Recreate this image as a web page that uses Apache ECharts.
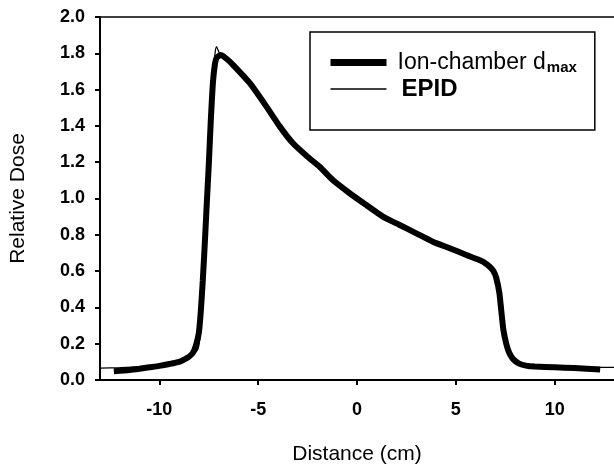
<!DOCTYPE html>
<html>
<head>
<meta charset="utf-8">
<script src="https://cdn.jsdelivr.net/npm/echarts@6/dist/echarts.min.js"></script>
<style>
  html, body { margin: 0; padding: 0; background: #fff; }
  #chart { width: 614px; height: 471px; }
</style>
</head>
<body>
<div id="chart"></div>
<script>
// ion-chamber d_max profile (thick line)
const ionX = [-12.3, -11.5, -11, -10.5, -10, -9.5, -9, -8.7, -8.5, -8.3, -8.15, -8.0, -7.9, -7.8, -7.7, -7.6,
  -7.5, -7.4, -7.3, -7.2, -7.1, -6.9, -6.6, -6.26, -5.42, -4.58, -3.9, -3.24, -2.5, -1.89, -1.21, -0.37,
  0.47, 1.31, 2.16, 3.0, 3.84, 4.69, 5.53, 6.1, 6.4, 6.7, 6.9, 7.05, 7.2, 7.3, 7.4, 7.55, 7.7, 7.9,
  8.2, 8.6, 9, 10, 11, 12.3];
const ionY = [0.048, 0.055, 0.062, 0.07, 0.078, 0.088, 0.1, 0.115, 0.128, 0.15, 0.19, 0.26, 0.38, 0.55, 0.75, 0.97,
  1.18, 1.42, 1.62, 1.73, 1.775, 1.79, 1.77, 1.735, 1.635, 1.506, 1.396, 1.304, 1.23, 1.175, 1.10, 1.029,
  0.964, 0.90, 0.854, 0.808, 0.762, 0.726, 0.689, 0.665, 0.65, 0.625, 0.6, 0.56, 0.48, 0.38, 0.28, 0.2, 0.15, 0.115,
  0.09, 0.078, 0.074, 0.07, 0.066, 0.058];

// EPID profile (thin line)
const epidX = [-13, -12, -11, -10, -9, -8.5, -8.3, -8.1, -8.0, -7.9, -7.8, -7.7, -7.6, -7.5, -7.4, -7.3,
  -7.2, -7.11, -6.95, -6.6, -6.26, -5.42, -4.58, -3.9, -3.24, -2.5, -1.89, -1.21, -0.37,
  0.47, 1.31, 2.16, 3.0, 3.84, 4.69, 5.53, 6.1, 6.4, 6.7, 6.9, 7.05, 7.2, 7.3, 7.4, 7.55, 7.7, 7.9,
  8.2, 8.6, 9, 10, 11, 12, 13];
const epidY = [0.065, 0.068, 0.073, 0.085, 0.105, 0.125, 0.14, 0.16, 0.19, 0.28, 0.42, 0.62, 0.88, 1.14, 1.4, 1.62,
  1.78, 1.836, 1.80, 1.77, 1.735, 1.635, 1.506, 1.396, 1.304, 1.23, 1.175, 1.10, 1.029,
  0.964, 0.90, 0.854, 0.808, 0.762, 0.726, 0.689, 0.665, 0.65, 0.625, 0.6, 0.56, 0.48, 0.38, 0.28, 0.2, 0.15, 0.115,
  0.09, 0.08, 0.076, 0.073, 0.071, 0.07, 0.07];

const xTicks = [-10, -5, 0, 5, 10];

function pairs(xs, ys) {
  return xs.map(function (x, i) { return [x, ys[i]]; });
}

const font = 'Liberation Sans, Arial, sans-serif';

let option = {
  backgroundColor: '#fff',
  animation: false,
  grid: {
    left: 98,
    right: 0,
    top: 17,
    bottom: 91
  },
  legend: {
    orient: 'vertical',
    left: 310,
    top: 32,
    padding: [19, 18, 29, 17],
    itemWidth: 56,
    itemHeight: 14,
    itemGap: 2,
    borderColor: '#000',
    borderWidth: 1.5,
    backgroundColor: '#fff',
    itemStyle: { opacity: 0 },
    textStyle: {
      fontFamily: font,
      fontSize: 23,
      color: '#000',
      padding: [0, 0, 0, 6],
      rich: {
        n: { fontFamily: font, fontSize: 23, color: '#000' },
        s: { fontFamily: font, fontSize: 15, fontWeight: 'bold', color: '#000', padding: [10, 0, 0, 1] },
        e: { fontFamily: font, fontSize: 24, fontWeight: 'bold', color: '#000', padding: [0, 0, 0, 4] }
      }
    },
    formatter: function (name) {
      if (name === 'EPID') return '{e|EPID}';
      return '{n|Ion-chamber d}{s|max}';
    },
    data: [
      { name: 'Ion-chamber dmax', itemStyle: { opacity: 0 }, lineStyle: { width: 7, color: '#000' } },
      { name: 'EPID', itemStyle: { opacity: 0 }, lineStyle: { width: 1.3, color: '#000' } }
    ]
  },
  xAxis: [
    {
      type: 'value',
      min: -13,
      max: 13,
      name: 'Distance (cm)',
      nameLocation: 'middle',
      nameGap: 64,
      nameTextStyle: { fontFamily: font, fontSize: 21, color: '#000' },
      splitLine: { show: false },
      axisLine: { show: true, onZero: false, lineStyle: { color: '#000', width: 2 } },
      axisTick: { show: true, customValues: xTicks, length: 5, inside: false, lineStyle: { color: '#000', width: 2 } },
      axisLabel: {
        customValues: xTicks,
        margin: 21,
        fontFamily: font,
        fontSize: 18,
        fontWeight: 'bold',
        color: '#000'
      }
    },
    {
      type: 'value',
      position: 'top',
      min: -13,
      max: 13,
      splitLine: { show: false },
      axisLine: { show: true, onZero: false, lineStyle: { color: '#000', width: 1.5 } },
      axisTick: { show: false },
      axisLabel: { show: false }
    }
  ],
  yAxis: {
    type: 'value',
    min: 0,
    max: 2,
    interval: 0.2,
    name: 'Relative Dose',
    nameLocation: 'middle',
    nameGap: 71,
    nameTextStyle: { fontFamily: font, fontSize: 21, color: '#000' },
    splitLine: { show: false },
    axisLine: { show: true, onZero: false, lineStyle: { color: '#000', width: 2 } },
    axisTick: { show: true, length: 5, inside: false, lineStyle: { color: '#000', width: 2 } },
    axisLabel: {
      margin: 15,
      fontFamily: font,
      fontSize: 18,
      fontWeight: 'bold',
      color: '#000',
      formatter: function (v) { return v.toFixed(1); }
    }
  },
  series: [
    {
      name: 'Ion-chamber dmax',
      type: 'line',
      showSymbol: false,
      symbol: 'none',
      smooth: 0.2,
      itemStyle: { color: '#000' },
      lineStyle: { color: '#000', width: 6 },
      data: pairs(ionX, ionY),
      z: 2
    },
    {
      name: 'EPID',
      type: 'line',
      showSymbol: false,
      symbol: 'none',
      smooth: 0.2,
      itemStyle: { color: '#000' },
      lineStyle: { color: '#000', width: 1.3 },
      data: pairs(epidX, epidY),
      z: 3
    }
  ]
};

let myChart = echarts.init(document.getElementById('chart'));
myChart.setOption(option);
</script>
</body>
</html>
